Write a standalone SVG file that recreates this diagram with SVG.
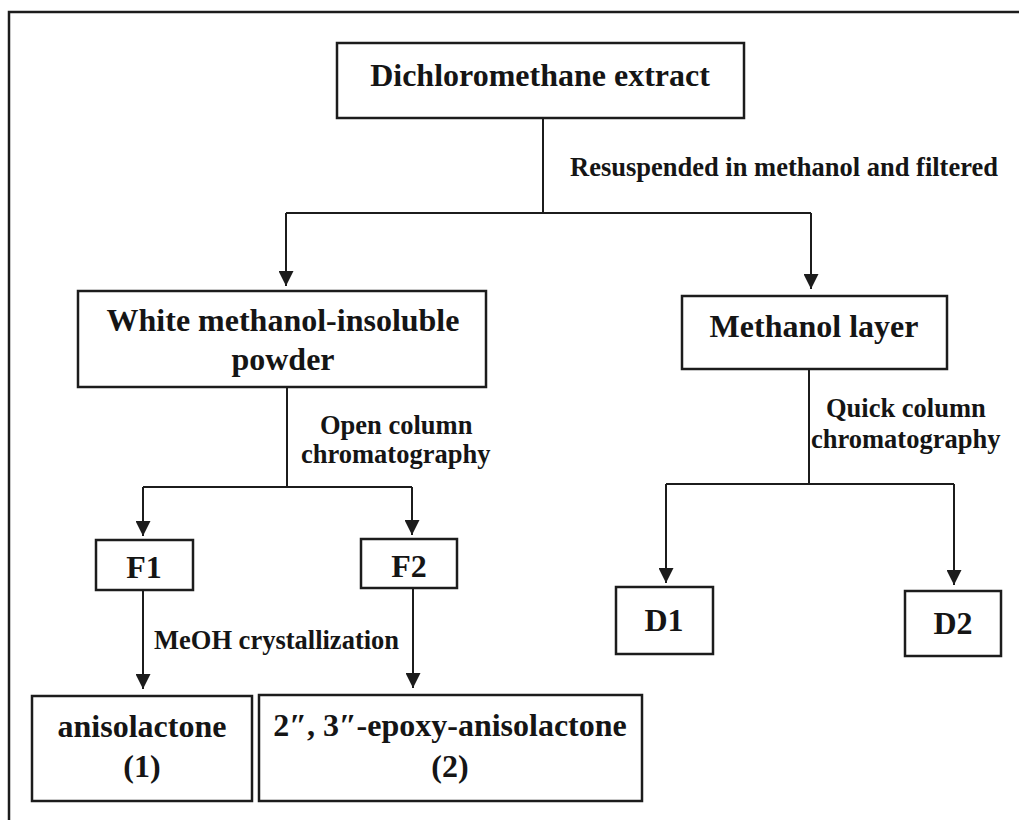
<svg xmlns="http://www.w3.org/2000/svg" width="1019" height="820" viewBox="0 0 1019 820">
  <style>
    .box { fill: #ffffff; stroke: #1c1c1c; stroke-width: 2.5; }
    .frame { fill: none; stroke: #1c1c1c; stroke-width: 2.5; }
    .conn { fill: none; stroke: #1c1c1c; stroke-width: 2; }
    .node { font-family: "Liberation Serif", "Times New Roman", serif; font-weight: bold; font-size: 32px; fill: #151515; text-anchor: middle; }
    .lbl { font-family: "Liberation Serif", "Times New Roman", serif; font-weight: bold; font-size: 26.5px; fill: #151515; }
  </style>
  <defs>
    <marker id="arrow" viewBox="0 0 16 16" refX="16" refY="8" markerWidth="16" markerHeight="15" markerUnits="userSpaceOnUse" orient="auto">
      <path d="M0,0 L16,8 L0,16 Z" fill="#1c1c1c"/>
    </marker>
  </defs>

  <rect width="1019" height="820" fill="#ffffff"/>

  <!-- page frame: top and left edges -->
  <path class="frame" d="M9,820 V12 H1019"/>

  <!-- connectors -->
  <g id="connectors">
    <path class="conn" d="M543,118 V213 M286,213 H811"/>
    <path class="conn" d="M286,213 V286" marker-end="url(#arrow)"/>
    <path class="conn" d="M811,213 V289" marker-end="url(#arrow)"/>

    <path class="conn" d="M287,387 V487 M143,487 H412"/>
    <path class="conn" d="M143,487 V536" marker-end="url(#arrow)"/>
    <path class="conn" d="M412,487 V535" marker-end="url(#arrow)"/>

    <path class="conn" d="M809,369 V484 M666,484 H954"/>
    <path class="conn" d="M666,484 V583" marker-end="url(#arrow)"/>
    <path class="conn" d="M954,484 V585" marker-end="url(#arrow)"/>

    <path class="conn" d="M143,590 V689" marker-end="url(#arrow)"/>
    <path class="conn" d="M413,588 V688" marker-end="url(#arrow)"/>

    <text class="lbl" x="570" y="176">Resuspended in methanol and filtered</text>
    <text class="lbl" x="320" y="434">Open column</text>
    <text class="lbl" x="301" y="463">chromatography</text>
    <text class="lbl" x="826" y="417">Quick column</text>
    <text class="lbl" x="811" y="448">chromatography</text>
    <text class="lbl" x="154" y="649">MeOH crystallization</text>
  </g>

  <!-- nodes -->
  <g id="dichloromethane-extract">
    <rect class="box" x="337" y="43" width="407" height="75"/>
    <text class="node" x="540" y="86">Dichloromethane extract</text>
  </g>

  <g id="white-powder">
    <rect class="box" x="78" y="291" width="408" height="96"/>
    <text class="node" x="283" y="331">White methanol-insoluble</text>
    <text class="node" x="283" y="370">powder</text>
  </g>

  <g id="methanol-layer">
    <rect class="box" x="682" y="296" width="265" height="73"/>
    <text class="node" x="814" y="337">Methanol layer</text>
  </g>

  <g id="f1">
    <rect class="box" x="96" y="540" width="97" height="50"/>
    <text class="node" x="144" y="578">F1</text>
  </g>

  <g id="f2">
    <rect class="box" x="361" y="539" width="96" height="49"/>
    <text class="node" x="409" y="577">F2</text>
  </g>

  <g id="d1">
    <rect class="box" x="616" y="587" width="97" height="67"/>
    <text class="node" x="664" y="631">D1</text>
  </g>

  <g id="d2">
    <rect class="box" x="905" y="591" width="96" height="65"/>
    <text class="node" x="953" y="634">D2</text>
  </g>

  <g id="anisolactone">
    <rect class="box" x="32" y="696" width="220" height="105"/>
    <text class="node" x="142" y="737">anisolactone</text>
    <text class="node" x="142" y="777">(1)</text>
  </g>

  <g id="epoxy-anisolactone">
    <rect class="box" x="259" y="695" width="383" height="106"/>
    <text class="node" x="450" y="736">2″, 3″-epoxy-anisolactone</text>
    <text class="node" x="450" y="777">(2)</text>
  </g>
</svg>
